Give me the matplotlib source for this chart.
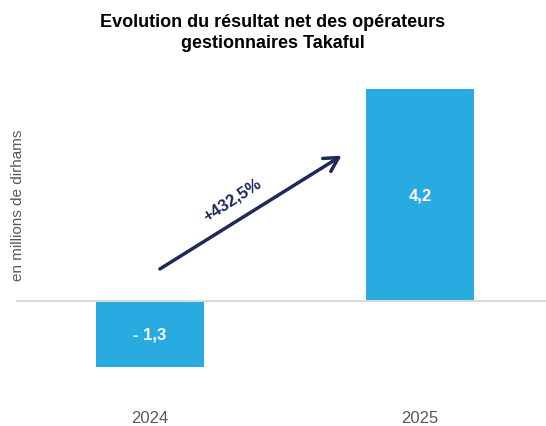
import matplotlib
matplotlib.use("Agg")
import matplotlib.pyplot as plt

years = ["2024", "2025"]
values = [-1.3, 4.2]
value_labels = ["- 1,3", "4,2"]
growth_label = "+432,5%"
title = "Evolution du résultat net des opérateurs\ngestionnaires Takaful"
ylabel = "en millions de dirhams"

plt.rcParams['font.family'] = ['Liberation Sans', 'DejaVu Sans']

fig = plt.figure(figsize=(5.46, 4.27), dpi=100)
W, H = 546, 427
ax = fig.add_axes([16 / W, 1 - 400 / H, 1 - 16 / W, 320 / H])

x = list(range(len(years)))
ax.bar(x, values, width=0.40, color="#29ABE2", zorder=2)
ax.axhline(0, color="#D9D9D9", lw=1.5, zorder=3)

ax.set_xlim(-0.496, 1.467)
ax.set_ylim(-1.944, 4.40)

for xi, v, lab in zip(x, values, value_labels):
    ax.text(xi, v / 2, lab, ha="center", va="center", color="white",
            fontsize=12, fontweight="bold", zorder=4)

ax.annotate("", xy=(0.710, 2.88), xytext=(0.037, 0.634),
            arrowprops=dict(arrowstyle="->,head_length=1.0,head_width=0.55",
                            color="#1F2A5A", lw=2.5, shrinkA=0, shrinkB=0), zorder=5)
ax.text(0.305, 2.02, growth_label, rotation=33, rotation_mode="anchor",
        ha="center", va="center", color="#1F2A5A", fontsize=12, fontweight="bold")

ax.set_xticks(x)
ax.set_xticklabels(years, fontsize=12, color="#595959")
ax.tick_params(axis="x", length=0, pad=8)
ax.set_yticks([])
for s in ax.spines.values():
    s.set_visible(False)

fig.text(18 / W, 1 - 205 / H, ylabel, rotation=90, ha="center", va="center",
         fontsize=11, color="#595959")
fig.text(0.5, 1 - 33 / H, title, ha="center", va="center", fontsize=13,
         fontweight="bold", color="black", linespacing=1.3)

fig.savefig("out.png", dpi=100)
